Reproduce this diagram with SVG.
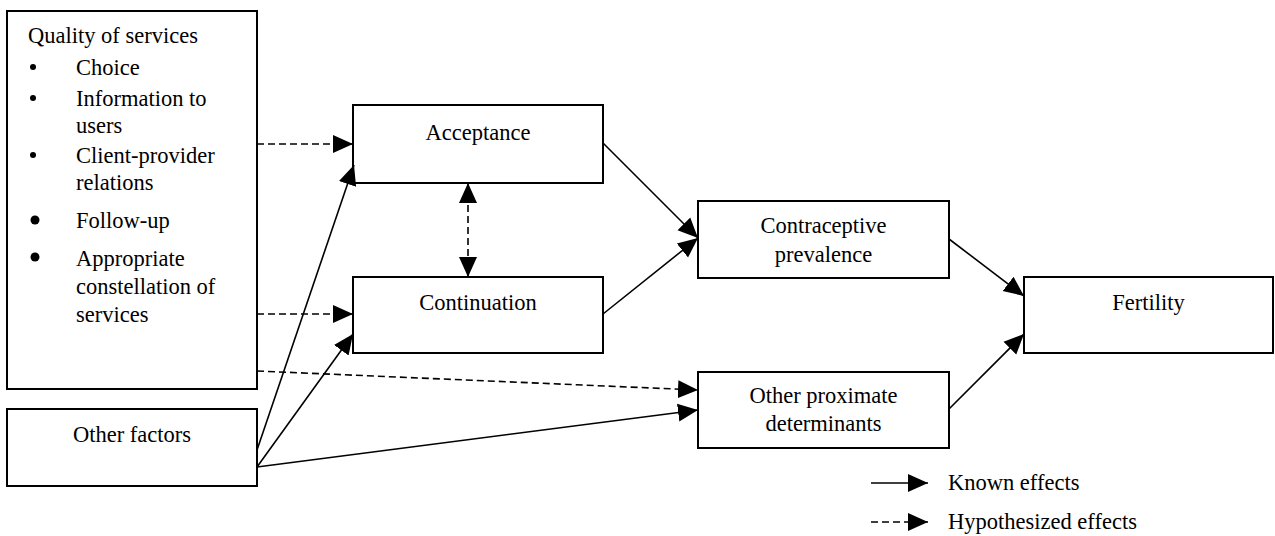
<svg xmlns="http://www.w3.org/2000/svg" width="1275" height="536" viewBox="0 0 1275 536">
<style>
.box{fill:#fff;stroke:#000;stroke-width:2}
.t{font-family:"Liberation Serif","Times New Roman",serif;font-size:22.5px;fill:#000}
.c{text-anchor:middle}
.ln{fill:none;stroke:#000;stroke-width:1.6;marker-end:url(#ah)}
.dash{stroke-dasharray:7 4}
</style>
<defs>
<marker id="ah" viewBox="0 0 20 20" refX="20" refY="10" markerUnits="userSpaceOnUse" markerWidth="20" markerHeight="20" orient="auto-start-reverse">
<path d="M0,1 L20,10 L0,19 Z" fill="#000"/>
</marker>
</defs>
<rect width="1275" height="536" fill="#fff"/>
<g id="quality">
<rect class="box" x="7" y="11" width="250" height="378"/>
<text class="t" x="28" y="43">Quality of services</text>
<circle cx="33" cy="67" r="3"/>
<text class="t" x="76" y="75">Choice</text>
<circle cx="33" cy="98" r="3"/>
<text class="t" x="76" y="106">Information to</text>
<text class="t" x="76" y="133">users</text>
<circle cx="33" cy="155" r="3"/>
<text class="t" x="76" y="163">Client-provider</text>
<text class="t" x="76" y="190">relations</text>
<circle cx="35" cy="220" r="4.5"/>
<text class="t" x="76" y="228">Follow-up</text>
<circle cx="35" cy="257" r="4.5"/>
<text class="t" x="76" y="266">Appropriate</text>
<text class="t" x="76" y="294">constellation of</text>
<text class="t" x="76" y="322">services</text>
</g>
<g id="other-factors">
<rect class="box" x="7" y="409" width="250" height="77"/>
<text class="t c" x="132" y="442">Other factors</text>
</g>
<g id="acceptance">
<rect class="box" x="353" y="105" width="250" height="78"/>
<text class="t c" x="478" y="140">Acceptance</text>
</g>
<g id="continuation">
<rect class="box" x="353" y="277" width="250" height="76"/>
<text class="t c" x="478" y="310">Continuation</text>
</g>
<g id="contraceptive">
<rect class="box" x="698" y="201" width="251" height="77"/>
<text class="t c" x="823.5" y="233">Contraceptive</text>
<text class="t c" x="823.5" y="262">prevalence</text>
</g>
<g id="proximate">
<rect class="box" x="698" y="372" width="251" height="76"/>
<text class="t c" x="823.5" y="403">Other proximate</text>
<text class="t c" x="823.5" y="431">determinants</text>
</g>
<g id="fertility">
<rect class="box" x="1024" y="277" width="249" height="76"/>
<text class="t c" x="1148.5" y="310">Fertility</text>
</g>
<g id="connectors">
<path class="ln dash" d="M257,144 L353,144"/>
<path class="ln dash" d="M257,314 L353,314"/>
<path class="ln dash" d="M257,371 L698,390"/>
<path class="ln" d="M257,450 L354,165"/>
<path class="ln" d="M257,467 L353,334"/>
<path class="ln" d="M257,467 L698,410"/>
<path class="ln" d="M603,143 L698,238"/>
<path class="ln" d="M603,314 L698,238"/>
<path class="ln" d="M949,239 L1024,296"/>
<path class="ln" d="M949,409 L1024,334"/>
<path class="ln dash" d="M468,183 L468,277" marker-start="url(#ah)"/>
</g>
<g id="legend">
<path class="ln" d="M871,483 L928,483"/>
<text class="t" x="948" y="490">Known effects</text>
<path class="ln dash" d="M871,522 L928,522"/>
<text class="t" x="948" y="529">Hypothesized effects</text>
</g>
</svg>
